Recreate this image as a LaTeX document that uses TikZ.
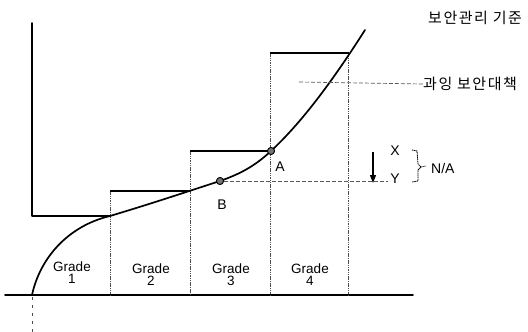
\documentclass[tikz,border=0pt]{standalone}
\usepackage{fontspec}
\setmainfont{Liberation Sans}
\newfontfamily\kr[LetterSpace=10]{Noto Sans CJK KR}
\usetikzlibrary{arrows.meta}
\begin{document}
\begin{tikzpicture}[x=1pt,y=-1pt,
  heavy/.style={line width=1.7pt, line cap=round, line join=round},
  toplin/.style={line width=1.3pt},
  vdot/.style={line width=0.8pt, black!70, dash pattern=on 1.5pt off 0.8pt},
  hdash/.style={line width=0.7pt, black!65, dash pattern=on 4pt off 2pt},
  dotnode/.style={circle, draw=black, fill=black!55, line width=0.8pt, inner sep=0pt, minimum size=7pt},
  lbl/.style={font=\fontsize{14}{14}\selectfont, inner sep=0pt},
  grade/.style={font=\fontsize{13.5}{12}\selectfont, align=center, inner sep=0pt},
  krtext/.style={font=\kr\fontsize{15}{15}\selectfont, inner sep=0pt, anchor=west}
]
\path[use as bounding box] (0,0) rectangle (528,332);
% axis
\draw[heavy] (5,295) -- (413,295);
\draw[line width=0.6pt, black!70, dash pattern=on 3pt off 5pt] (32,297) -- (32,332);
% grade boxes
\draw[vdot] (110,191) -- (110,295);
\draw[vdot] (190,151) -- (190,295);
\draw[vdot] (270,53) -- (270,295);
\draw[vdot] (348,53) -- (348,295);
\draw[heavy] (32,23) -- (32,216) -- (110,216);
\draw[toplin] (110,191) -- (190,191);
\draw[toplin] (190,151) -- (271,151);
\draw[line width=1.1pt] (270,53) -- (349,53);
% curve
\coordinate (O) at (32,295);
\coordinate (P1) at (110,216);
\coordinate (E) at (365,30);
\node[dotnode] (B) at (220,181) {};
\node[dotnode] (A) at (271,151) {};
\draw[heavy] (O) .. controls (40,258) and (68,226) .. (P1)
  .. controls (150,204) and (180,194) .. (B.center)
  .. controls (240,174) and (255,166) .. (A.center)
  .. controls (300,124) and (330,85) .. (E);
\node[dotnode] at (B) {};
\node[dotnode] at (A) {};
% B level dashed line
\coordinate (Yend) at (388,181);
\draw[hdash] (B.east) -- (Yend);
% arrow X->Y
\coordinate (Xa) at (373,152);
\coordinate (Ya) at (373,183);
\draw[-{Triangle[length=8pt,width=6pt]}, line width=1.1pt] (Xa) -- (Ya);
% labels
\node[lbl] (Alab) at (280,167) {A};
\node[lbl] (Blab) at (222,205) {B};
\node[lbl] (X) at (395,151) {X};
\node[lbl] (Y) at (395,179) {Y};
\draw[line width=0.8pt, dash pattern=on 1.5pt off 0.6pt] (412,150) -- (417,151) -- (418,164) -- (421,167) -- (418,170) -- (418,181) -- (412,182);
\draw[line width=0.6pt, black!70] (421,167) -- (426,166);
\node[lbl, anchor=west] (NA) at (431,168) {N/A};
% grade labels
\node[grade] (g1) at (72,273) {Grade\\1};
\node[grade] (g2) at (151,275) {Grade\\2};
\node[grade] (g3) at (231,275) {Grade\\3};
\node[grade] (g4) at (310,275) {Grade\\4};
% Korean labels
\coordinate (Ds) at (299,82);
\node[krtext] (k1) at (428,18) {보안관리 기준};
\node[krtext] (k2) at (423,84) {과잉 보안대책};
\draw[hdash] (Ds) -- (k2.west);
\end{tikzpicture}
\end{document}
